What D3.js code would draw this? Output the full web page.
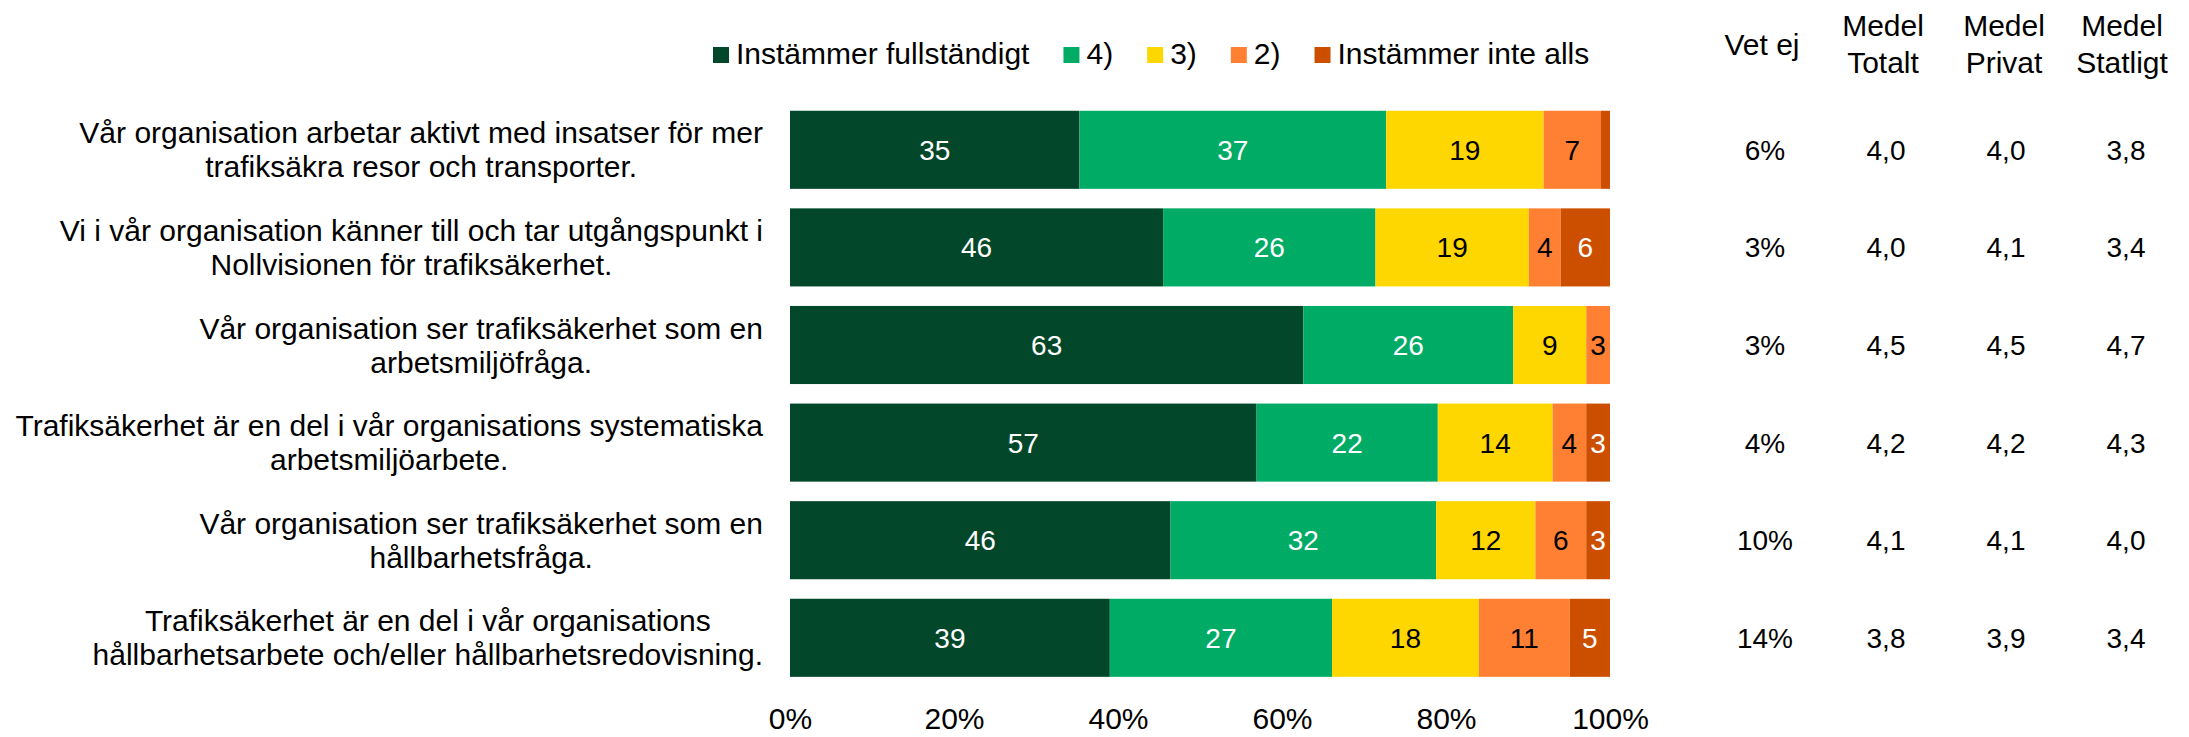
<!DOCTYPE html>
<html>
<head>
<meta charset="utf-8">
<script src="https://cdn.jsdelivr.net/npm/d3@7"></script>
<style>
  html, body { margin: 0; padding: 0; background: #ffffff; }
  svg { display: block; }
  text { font-family: "Liberation Sans", Arial, Helvetica, sans-serif; }
</style>
</head>
<body>
<script>
// ---------- DATA ----------
const categories = [
  ["Vår organisation arbetar aktivt med insatser för mer", "trafiksäkra resor och transporter."],
  ["Vi i vår organisation känner till och tar utgångspunkt i", "Nollvisionen för trafiksäkerhet."],
  ["Vår organisation ser trafiksäkerhet som en", "arbetsmiljöfråga."],
  ["Trafiksäkerhet är en del i vår organisations systematiska", "arbetsmiljöarbete."],
  ["Vår organisation ser trafiksäkerhet som en", "hållbarhetsfråga."],
  ["Trafiksäkerhet är en del i vår organisations", "hållbarhetsarbete och/eller hållbarhetsredovisning."]
];
const seriesNames = ["Instämmer fullständigt", "4)", "3)", "2)", "Instämmer inte alls"];
const instammerFullstandigt = [35.3, 45.5, 62.6, 56.9, 46.4, 39.0];
const svar4 = [37.4, 25.9, 25.6, 22.1, 32.4, 27.1];
const svar3 = [19.2, 18.7, 8.9, 14.0, 12.1, 17.9];
const svar2 = [7.0, 3.9, 2.9, 4.1, 6.2, 11.1];
const instammerInteAlls = [1.1, 6.0, 0, 2.9, 2.9, 4.9];
const vetEj = ["6%", "3%", "3%", "4%", "10%", "14%"];
const medelTotalt = ["4,0", "4,0", "4,5", "4,2", "4,1", "3,8"];
const medelPrivat = ["4,0", "4,1", "4,5", "4,2", "4,1", "3,9"];
const medelStatligt = ["3,8", "3,4", "4,7", "4,3", "4,0", "3,4"];
const tickValues = [0, 20, 40, 60, 80, 100];
const columnHeaders = [["Vet ej"], ["Medel", "Totalt"], ["Medel", "Privat"], ["Medel", "Statligt"]];

// ---------- STYLE ----------
const colors = ["#03472a", "#00ab66", "#ffd700", "#ff8033", "#cc4f00"];
const labelColors = ["#ffffff", "#ffffff", "#000000", "#000000", "#ffffff"];
const W = 2189, H = 737;
const FS = 30, FSV = 28;

const svg = d3.select("body").append("svg").attr("width", W).attr("height", H);

const seriesArrays = [instammerFullstandigt, svar4, svar3, svar2, instammerInteAlls];
const rows = categories.map((c, i) => {
  const o = { idx: i };
  seriesNames.forEach((s, k) => o[s] = seriesArrays[k][i]);
  return o;
});
const stacked = d3.stack().keys(seriesNames)(rows);

const x = d3.scaleLinear().domain([0, 100]).range([790, 1610]);
const y = d3.scaleBand().domain(d3.range(categories.length))
  .range([101, 101 + 97.6 * 6]).paddingInner(0.2).paddingOuter(0.1);

// bars
const g = svg.append("g");
stacked.forEach((layer, k) => {
  const lg = g.append("g");
  lg.selectAll("rect").data(layer).join("rect")
    .attr("x", d => x(d[0]))
    .attr("y", (d, i) => y(i))
    .attr("width", d => Math.max(0, x(d[1]) - x(d[0])))
    .attr("height", y.bandwidth())
    .attr("fill", colors[k]);
  lg.selectAll("text").data(layer.filter(d => d[1] - d[0] >= 2)).join("text")
    .attr("x", d => (x(d[0]) + x(d[1])) / 2)
    .attr("y", d => y(d.data.idx) + y.bandwidth() / 2)
    .attr("dy", "0.36em")
    .attr("text-anchor", "middle")
    .attr("font-size", FSV)
    .attr("fill", labelColors[k])
    .text(d => d3.format(".0f")(d[1] - d[0]));
});

// x axis (labels only)
const xAxis = d3.axisBottom(x).tickValues(tickValues).tickFormat(d => d + "%").tickSize(0).tickPadding(0);
const ax = svg.append("g").attr("transform", "translate(0,708)").call(xAxis);
ax.select(".domain").remove();
ax.selectAll("text").attr("font-size", FS).attr("fill", "#000").attr("dy", "0.71em")
  .style("font-family", '"Liberation Sans", Arial, sans-serif');

// category labels
const labelRight = 763;
const lineGap = 34;
categories.forEach((lines, i) => {
  const cy = y(i) + y.bandwidth() / 2;
  const grp = svg.append("g");
  const texts = lines.map((ln, j) => grp.append("text")
    .attr("font-size", FS).attr("fill", "#000")
    .attr("text-anchor", "middle")
    .attr("y", cy + (j - (lines.length - 1) / 2) * lineGap)
    .attr("dy", "0.35em")
    .text(ln));
  const maxW = d3.max(texts, t => t.node().getComputedTextLength());
  texts.forEach(t => t.attr("x", labelRight - maxW / 2));
});

// legend
let lx = 713;
const legend = svg.append("g");
seriesNames.forEach((s, k) => {
  legend.append("rect").attr("x", lx).attr("y", 47).attr("width", 16).attr("height", 16).attr("fill", colors[k]);
  const t = legend.append("text").attr("x", lx + 23).attr("y", 64).attr("font-size", FS).attr("fill", "#000").text(s);
  lx += 23 + t.node().getComputedTextLength() + 34;
});

// right columns
const headerX = [1762, 1883, 2004, 2122];
const valueX = [1765, 1886, 2006, 2126];
const colData = [vetEj, medelTotalt, medelPrivat, medelStatligt];
columnHeaders.forEach((h, c) => {
  const baseY = h.length === 1 ? [55] : [36, 73];
  h.forEach((ln, j) => svg.append("text")
    .attr("x", headerX[c]).attr("y", baseY[j])
    .attr("text-anchor", "middle").attr("font-size", FS).attr("fill", "#000").text(ln));
  svg.append("g").selectAll("text").data(colData[c]).join("text")
    .attr("x", valueX[c])
    .attr("y", (d, i) => y(i) + y.bandwidth() / 2)
    .attr("dy", "0.36em")
    .attr("text-anchor", "middle").attr("font-size", FSV).attr("fill", "#000")
    .text(d => d);
});
</script>
</body>
</html>
